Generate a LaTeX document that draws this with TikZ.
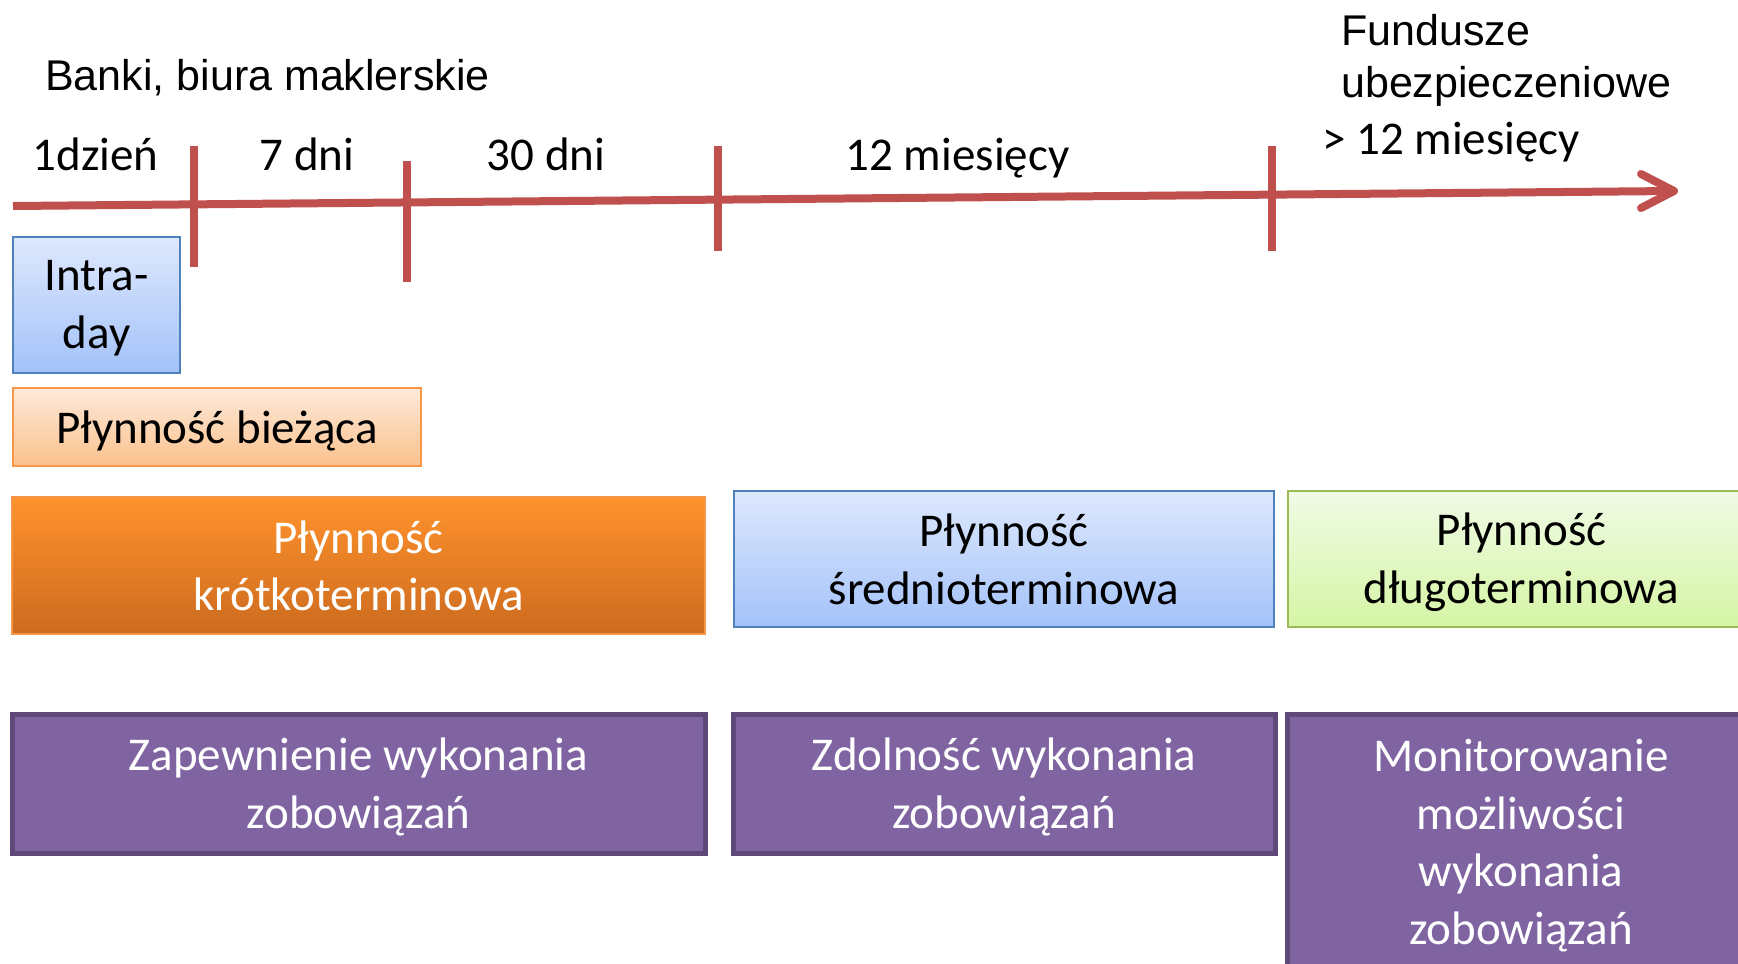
\documentclass[tikz,border=0pt]{standalone}
\usepackage{fontspec}
\setmainfont{Carlito}
\newfontfamily\arialf{Liberation Sans}

\definecolor{axisred}{HTML}{C0504D}
\definecolor{blueTop}{HTML}{DEE8FD}
\definecolor{blueBot}{HTML}{A3C2F9}
\definecolor{blueLine}{HTML}{4F81BD}
\definecolor{peachTop}{HTML}{FDE9D9}
\definecolor{peachBot}{HTML}{FBC28D}
\definecolor{orangeLine}{HTML}{F79646}
\definecolor{orangeTop}{HTML}{FF922C}
\definecolor{orangeBot}{HTML}{CC6B1F}
\definecolor{greenTop}{HTML}{F0FBE5}
\definecolor{greenBot}{HTML}{D5F5A5}
\definecolor{greenLine}{HTML}{9BBB59}
\definecolor{purpleFill}{HTML}{8064A2}
\definecolor{purpleLine}{HTML}{5F497A}

\tikzset{
  calib/.style={font=\fontsize{47}{57.6}\selectfont},
  arialtxt/.style={font=\arialf\fontsize{43}{50}\selectfont},
  axisline/.style={draw=axisred, line width=8pt},
  tick/.style={draw=axisred, line width=7.5pt},
  box/.style={rectangle, inner sep=0pt, outer sep=0pt},
  boxtext/.style={calib, align=center, inner sep=0pt, yshift=-3.5pt},
  bluebox/.style={box, shade, top color=blueTop, bottom color=blueBot, draw=blueLine, line width=2.5pt},
  peachbox/.style={box, shade, top color=peachTop, bottom color=peachBot, draw=orangeLine, line width=2.5pt},
  orangebox/.style={box, shade, top color=orangeTop, bottom color=orangeBot, draw=orangeLine, line width=2.5pt},
  greenbox/.style={box, shade, top color=greenTop, bottom color=greenBot, draw=greenLine, line width=2.5pt},
  purplebox/.style={box, fill=purpleFill, draw=purpleLine, line width=5pt},
}

\begin{document}
\begin{tikzpicture}[x=1pt, y=-1pt]
\useasboundingbox (0,0) rectangle (1738,964);
\clip (0,0) rectangle (1738,964);

% time axis
\coordinate (axL) at (13,206);
\coordinate (axR) at (1674,191);
\draw[axisline] (axL) -- (axR);
\draw[axisline, line cap=round, line join=round] (axR) ++(-33,-17) -- (axR) -- ++(-33,17);

% tick marks
\coordinate (t1a) at (194,146); \coordinate (t1b) at (194,267);
\coordinate (t2a) at (407,161); \coordinate (t2b) at (407,282);
\coordinate (t3a) at (718,146); \coordinate (t3b) at (718,251);
\coordinate (t4a) at (1272,146); \coordinate (t4b) at (1272,251);
\draw[tick] (t1a) -- (t1b);
\draw[tick] (t2a) -- (t2b);
\draw[tick] (t3a) -- (t3b);
\draw[tick] (t4a) -- (t4b);

% interval labels
\node[calib, anchor=base, inner sep=0pt] (l1) at (95.5,170) {1dzień};
\node[calib, anchor=base, inner sep=0pt] (l2) at (307,170) {7 dni};
\node[calib, anchor=base, inner sep=0pt] (l3) at (546,170) {30 dni};
\node[calib, anchor=base, inner sep=0pt] (l4) at (957.5,170) {12 miesięcy};
\node[calib, anchor=base, inner sep=0pt] (l5) at (1451,154) {> 12 miesięcy};

% institutions
\node[arialtxt, anchor=base, inner sep=0pt] (banki) at (267.5,90) {Banki, biura maklerskie};
\node[arialtxt, anchor=base west, inner sep=0pt] (fund1) at (1341,45) {Fundusze};
\node[arialtxt, anchor=base west, inner sep=0pt] (fund2) at (1341,97) {ubezpieczeniowe};

% liquidity horizons
\node[bluebox, minimum width=167pt, minimum height=136pt] (intra) at (96.5,305) {};
\node[peachbox, minimum width=408pt, minimum height=78pt] (biez) at (217,427) {};
\node[orangebox, minimum width=693pt, minimum height=137pt] (krotko) at (358.5,565.5) {};
\node[bluebox, minimum width=540pt, minimum height=136pt] (srednio) at (1004,559) {};
\node[greenbox, minimum width=467pt, minimum height=136pt] (dlugo) at (1521.5,559) {};

\node[boxtext] (intraT) at (intra.center) {Intra-\\day};
\node[boxtext] (biezT) at (biez.center) {Płynność bieżąca};
\node[boxtext, yshift=3pt, text=white] (krotkoT) at (krotko.center) {Płynność\\krótkoterminowa};
\node[boxtext, yshift=3pt] (srednioT) at (srednio.center) {Płynność\\średnioterminowa};
\node[boxtext] (dlugoT) at (dlugo.center) {Płynność\\długoterminowa};

% management goals
\node[purplebox, minimum width=693pt, minimum height=139pt] (cel1) at (358.5,783.5) {};
\node[purplebox, minimum width=542pt, minimum height=139pt] (cel2) at (1004,783.5) {};
\node[purplebox, minimum width=468pt, minimum height=256pt] (cel3) at (1521,842) {};

\node[boxtext, text=white] (cel1T) at (cel1.center) {Zapewnienie wykonania\\zobowiązań};
\node[boxtext, text=white] (cel2T) at (cel2.center) {Zdolność wykonania\\zobowiązań};
\node[boxtext, text=white] (cel3T) at (cel3.center) {Monitorowanie\\możliwości\\wykonania\\zobowiązań};
\end{tikzpicture}
\end{document}
